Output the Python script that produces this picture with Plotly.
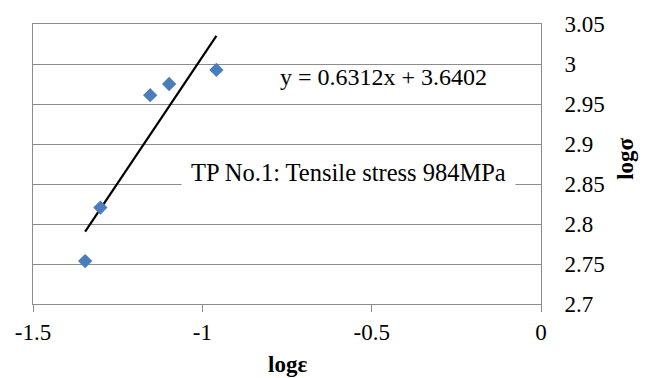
import plotly.graph_objects as go

# Data
log_eps = [-1.346, -1.301, -1.154, -1.098, -0.9585]
log_sigma = [2.7537, 2.8205, 2.961, 2.975, 2.9926]
slope = 0.6312
intercept = 3.6402
x_ticks = [-1.5, -1, -0.5, 0]
x_tick_labels = ["-1.5", "-1", "-0.5", "0"]
y_ticks = [2.7, 2.75, 2.8, 2.85, 2.9, 2.95, 3.0, 3.05]
y_tick_labels = ["2.7", "2.75", "2.8", "2.85", "2.9", "2.95", "3", "3.05"]
equation_text = "y = 0.6312x + 3.6402"
label_text = "TP No.1: Tensile stress 984MPa"

FONT = "Times New Roman"
GRID = "#8c8c8c"

trend_x = [min(log_eps), max(log_eps)]
trend_y = [slope * v + intercept for v in trend_x]

fig = go.Figure()
fig.add_trace(go.Scatter(
    x=trend_x, y=trend_y, mode="lines",
    line=dict(color="black", width=2.2), showlegend=False, hoverinfo="skip"))
fig.add_trace(go.Scatter(
    x=log_eps, y=log_sigma, mode="markers",
    marker=dict(symbol="diamond", size=11, color="#4a7ebb"),
    showlegend=False))

fig.update_layout(
    template="simple_white",
    width=648, height=378,
    margin=dict(l=33, r=107, t=20, b=74),
    paper_bgcolor="white", plot_bgcolor="white",
    font=dict(family=FONT, size=23, color="black"),
    xaxis=dict(
        range=[-1.5, 0], tickvals=x_ticks, ticktext=x_tick_labels,
        showgrid=False, zeroline=False,
        showline=True, linecolor=GRID, linewidth=1, mirror=True,
        ticks="outside", ticklen=7, tickcolor=GRID, tickwidth=1,
        tickfont=dict(family=FONT, size=23, color="black"),
    ),
    yaxis=dict(
        range=[2.7, 3.05], tickvals=y_ticks, ticktext=y_tick_labels,
        side="right", showgrid=True, gridcolor=GRID, gridwidth=1,
        zeroline=False, showline=True, linecolor=GRID, linewidth=1, mirror=True,
        ticks="outside", ticklen=18, tickcolor="rgba(0,0,0,0)",
        tickfont=dict(family=FONT, size=23, color="black"),
    ),
    annotations=[
        dict(text=equation_text, xref="paper", yref="paper",
             x=0.689, y=0.81, xanchor="center", yanchor="middle",
             showarrow=False, font=dict(family=FONT, size=24, color="black")),
        dict(text=label_text, xref="paper", yref="paper",
             x=0.622, y=0.468, xanchor="center", yanchor="middle",
             showarrow=False, bgcolor="white", borderpad=9,
             font=dict(family=FONT, size=24.5, color="black")),
        dict(text="<b>logε</b>", xref="paper", yref="paper",
             x=0.5, y=-0.215, xanchor="center", yanchor="middle",
             showarrow=False, font=dict(family=FONT, size=23, color="black")),
        dict(text="<b>logσ</b>", xref="paper", yref="paper",
             x=1.167, y=0.518, xanchor="center", yanchor="middle",
             textangle=-90, showarrow=False,
             font=dict(family=FONT, size=23, color="black")),
    ],
)

fig.write_html("out.html")
